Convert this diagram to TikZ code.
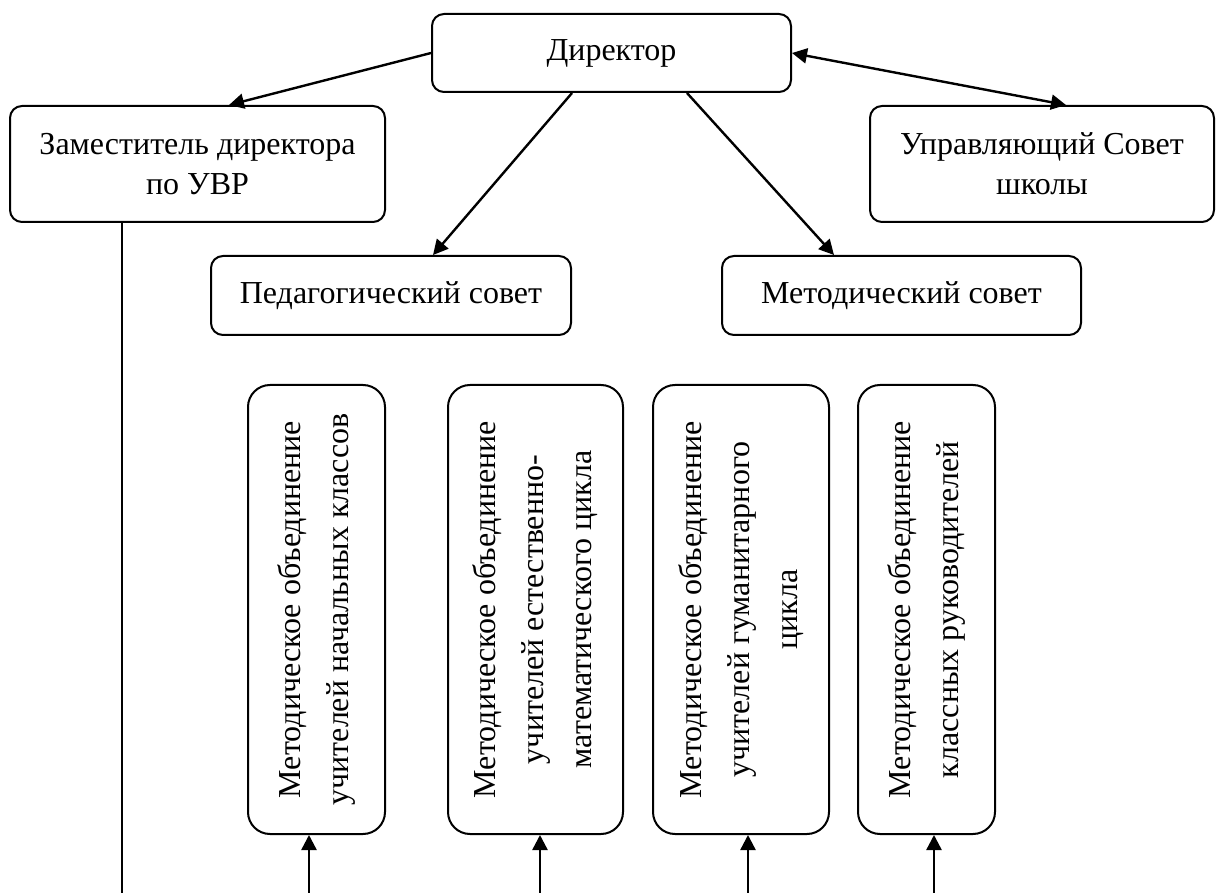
\documentclass[tikz,border=0pt]{standalone}
\usepackage{fontspec}
\setmainfont{Liberation Serif}
\usetikzlibrary{arrows.meta}

\tikzset{
    box/.style={draw, line width=1pt, rounded corners=6pt, align=center, inner sep=2pt, font=\fontsize{16}{20}\selectfont},
    mobox/.style={draw, line width=1pt, rounded corners=11pt, align=center, inner sep=2pt, rotate=90, minimum width=224.5pt, font=\fontsize{16}{24}\selectfont},
    arr/.style={->, line width=1.2pt},
    >={Triangle[length=7.5pt,width=7.5pt]}
}

\begin{document}
\begin{tikzpicture}[x=0.5pt,y=-0.5pt]
            \useasboundingbox (0,0) rectangle (1222,893);

            \node[box, minimum width=179.5pt, minimum height=39pt] (dir) at (611.5,53) {Директор};
            \node[box, minimum width=187.5pt, minimum height=58pt] (zam) at (197.5,164) {Заместитель директора\\по УВР};
            \node[box, minimum width=172pt, minimum height=58pt] (upr) at (1042,164) {Управляющий Совет\\школы};
            \node[box, minimum width=180pt, minimum height=39.5pt] (ped) at (391,295.5) {Педагогический совет};
            \node[box, minimum width=179.5pt, minimum height=39.5pt] (met) at (901.5,295.5) {Методический совет};

            \node[mobox, minimum height=68.5pt] (mo1) at (316.5,609.5) {Методическое объединение\\учителей начальных классов};
            \node[mobox, minimum height=87.5pt] (mo2) at (535.5,609.5) {Методическое объединение\\учителей естественно-\\математического цикла};
            \node[mobox, minimum height=88pt] (mo3) at (741,609.5) {Методическое объединение\\учителей гуманитарного\\цикла};
            \node[mobox, minimum height=68.5pt] (mo4) at (926.5,609.5) {Методическое объединение\\классных руководителей};

            \draw[arr] (dir.west) -- ([xshift=15.75pt]zam.north);
            \draw[arr] ([xshift=-19.75pt]dir.south) -- ([xshift=21pt]ped.north);
            \draw[arr] ([xshift=37.75pt]dir.south) -- ([xshift=-33.75pt]met.north);
            \draw[arr, <->] (dir.east) -- ([xshift=12pt]upr.north);

            \coordinate (zb) at (122,893);
            \coordinate (b1) at (309,893);
            \coordinate (b2) at (540,893);
            \coordinate (b3) at (748,893);
            \coordinate (b4) at (934,893);

            \draw[line width=0.7pt] (zam.south -| zb) -- (zb);
            \draw[arr] (b1) -- (mo1.west -| b1);
            \draw[arr] (b2) -- (mo2.west -| b2);
            \draw[arr] (b3) -- (mo3.west -| b3);
            \draw[arr] (b4) -- (mo4.west -| b4);
        \end{tikzpicture}
\end{document}
